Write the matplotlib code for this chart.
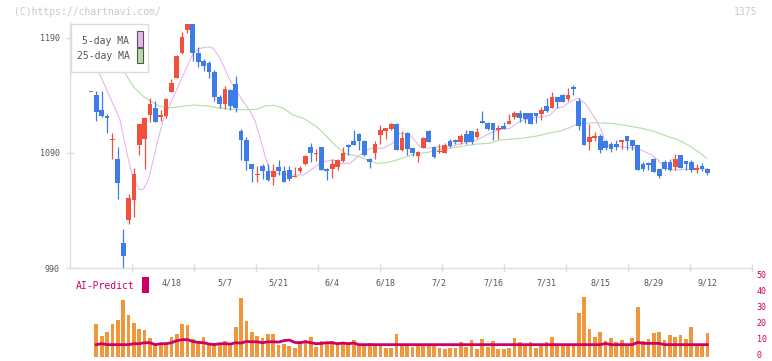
import matplotlib
matplotlib.use('Agg')
import matplotlib.pyplot as plt
import matplotlib.transforms as mtransforms
import numpy as np
from matplotlib.patches import Rectangle

plt.rcParams['font.family'] = ['DejaVu Sans Mono']

# daily candles, oldest first
opens = [1142.6, 1140, 1127, 1122, 1101, 1085, 1012, 1032, 1049, 1097,
         1102, 1123, 1129, 1121, 1122, 1143, 1155, 1177, 1197, 1202,
         1177, 1170, 1168, 1160, 1139, 1133, 1145, 1150, 1109, 1101,
         1080, 1071, 1079, 1074, 1069, 1077.5, 1074, 1075, 1069.5, 1074,
         1080, 1095.5, 1089.5, 1095, 1076, 1076, 1078, 1083, 1097, 1100,
         1106.5, 1100, 1085, 1090, 1105.6, 1109.5, 1111, 1115, 1092.6, 1107,
         1094, 1087.4, 1094.3, 1109, 1095, 1090.5, 1090, 1100, 1101, 1099.6,
         1106.5, 1109, 1104, 1118, 1116, 1116, 1110, 1113.5, 1115, 1121,
         1125, 1124.8, 1125, 1124.8, 1124, 1131, 1129, 1138.7, 1140.4, 1137,
         1147.4, 1135, 1120.4, 1099.6, 1103, 1104.8, 1100.4, 1097.8, 1097.8, 1099.6,
         1104.8, 1101.3, 1097, 1080.4, 1081.3, 1084.8, 1076, 1082.2, 1082, 1077.8,
         1088.3, 1083, 1082.2, 1075.2, 1078.7, 1076.1]
highs = [1143.4, 1144, 1144, 1124, 1107, 1095, 1024, 1054, 1077, 1115,
         1121, 1138, 1135, 1127, 1138, 1154, 1175, 1195, 1202, 1202.5,
         1182, 1172, 1170, 1162, 1140, 1148, 1146, 1157, 1111, 1104,
         1080.5, 1079, 1080, 1080, 1080, 1084, 1079, 1079, 1077.5, 1079,
         1088, 1099, 1093.5, 1095.5, 1077, 1084.5, 1085, 1095.5, 1097.5, 1110,
         1107, 1101, 1086, 1100, 1114, 1112, 1116, 1116, 1109, 1108,
         1094.5, 1092, 1104, 1110, 1095.5, 1098, 1099, 1102, 1102, 1106.5,
         1110, 1109.5, 1112, 1126.5, 1117, 1116.5, 1114, 1117, 1124, 1126.5,
         1127.4, 1125, 1125, 1125, 1130, 1138, 1143, 1139, 1141.3, 1146.5,
         1149, 1138, 1120.5, 1115, 1108.3, 1106.5, 1101.3, 1099.6, 1101.3, 1101.5,
         1105, 1101.5, 1097, 1082, 1082.2, 1085.7, 1076.5, 1083.9, 1085, 1089,
         1088.5, 1083, 1083.9, 1080.4, 1081.3, 1077]
lows = [1142.6, 1118, 1121, 1107, 1085, 1050, 990, 1028, 1034, 1088,
        1076, 1117, 1117, 1118, 1120, 1143, 1155, 1176, 1194, 1170,
        1165, 1161, 1155, 1135, 1129, 1128, 1127, 1126, 1084, 1075,
        1065, 1065, 1067, 1066, 1062, 1071, 1065, 1066, 1069, 1073,
        1079.5, 1082, 1083, 1075, 1066.5, 1068.5, 1075, 1082, 1088, 1097,
        1092.6, 1087, 1077, 1085, 1098, 1102, 1110, 1092.6, 1092, 1088,
        1087, 1082, 1094, 1099.5, 1086, 1090, 1090, 1095, 1098, 1098,
        1098, 1098, 1103, 1116, 1110, 1101, 1102, 1110.9, 1115, 1119.6,
        1117, 1116, 1115, 1116, 1118.7, 1126, 1129, 1129, 1134, 1135,
        1140.4, 1110, 1097, 1092.6, 1100.4, 1090, 1092.6, 1090.9, 1092.6, 1093.5,
        1092.6, 1092.6, 1075, 1074.3, 1075.2, 1073.5, 1068.3, 1075.2, 1074.3, 1075.2,
        1077, 1075.2, 1073.5, 1072.6, 1074.3, 1070.9]
closes = [1143.4, 1126, 1122, 1120.5, 1102, 1064, 1000, 1051, 1072, 1115,
          1120, 1133, 1117, 1123, 1137, 1151, 1174, 1191, 1202, 1177,
          1169, 1166, 1160, 1139, 1133, 1146, 1131, 1129, 1101, 1083,
          1076, 1072, 1074, 1066.5, 1074, 1074, 1065, 1067, 1070, 1077,
          1087, 1090, 1090, 1075, 1074, 1080, 1084, 1090, 1095, 1097,
          1100, 1088, 1082, 1098, 1110, 1112, 1115, 1092.6, 1103, 1093.5,
          1090, 1091, 1103, 1099.6, 1086.5, 1091, 1097, 1096, 1099.6, 1104.8,
          1099.6, 1099.6, 1108, 1116, 1111, 1110, 1112, 1111, 1118, 1125,
          1120.4, 1119.6, 1115, 1122, 1127.4, 1126.5, 1138.7, 1134.3, 1134.3, 1140.4,
          1145.7, 1113.5, 1097, 1103.9, 1104.8, 1092.6, 1094.3, 1093.5, 1095.2, 1101.3,
          1100.4, 1096.1, 1075.2, 1076, 1079.6, 1073.5, 1070, 1076.1, 1075, 1084.8,
          1077, 1080.4, 1075.2, 1077, 1076.1, 1072.6]

# volume and AI-Predict, from the second candle on
volumes = [20.9, 13.5, 15.9, 20.9, 23.4, 35.8, 26.5, 21.5, 17.8, 17.2,
           12.2, 7.9, 8.5, 8.5, 12.8, 14.7, 20.9, 20.3, 11.6, 9.7,
           12.8, 7.9, 9.1, 9.1, 10.4, 8.5, 19.0, 37.1, 22.8, 15.9,
           13.5, 12.2, 14.7, 14.7, 7.9, 8.5, 7.2, 6.0, 10.4, 11.0,
           12.8, 6.6, 10.4, 9.7, 10.4, 8.5, 9.7, 8.5, 11.0, 8.5,
           7.9, 9.1, 7.9, 7.9, 6.0, 6.0, 14.7, 7.2, 7.2, 6.2,
           7.2, 7.2, 7.2, 7.2, 5.6, 5.2, 5.6, 5.6, 9.3, 6.2,
           10.6, 5.2, 11.2, 6.2, 9.9, 5.0, 5.0, 5.6, 11.8, 9.3,
           7.2, 9.3, 5.6, 7.2, 9.3, 12.4, 7.2, 7.2, 7.2, 7.2,
           28.0, 37.9, 17.4, 12.4, 16.1, 9.9, 11.8, 9.3, 10.6, 7.2,
           11.8, 31.7, 9.9, 11.2, 14.9, 16.1, 10.6, 13.7, 12.4, 13.7,
           11.2, 19.0, 7.0, 7.0, 14.9]
ai_predict = [7.9, 8.5, 7.9, 7.9, 7.9, 7.9, 7.9, 8.5, 8.5, 9.1,
              9.1, 7.9, 8.5, 8.5, 9.1, 10.4, 11.0, 11.0, 9.9, 9.3,
              9.1, 8.3, 7.9, 8.5, 8.5, 8.3, 9.1, 8.9, 9.9, 9.7,
              9.7, 9.1, 9.7, 9.7, 9.5, 10.4, 10.8, 9.3, 9.1, 9.7,
              9.1, 8.5, 8.7, 9.1, 9.1, 8.5, 8.9, 8.5, 8.9, 7.9,
              7.9, 7.9, 7.9, 7.9, 7.9, 7.9, 7.9, 7.9, 7.9, 7.9,
              7.9, 7.9, 7.9, 7.9, 7.9, 7.9, 7.9, 7.9, 7.9, 7.9,
              7.9, 7.9, 7.9, 7.9, 7.9, 7.9, 7.9, 7.9, 7.9, 7.9,
              7.9, 7.9, 7.9, 7.9, 7.9, 7.9, 7.9, 7.9, 7.9, 7.9,
              7.9, 7.9, 7.9, 7.9, 7.9, 8.6, 7.9, 7.9, 7.9, 7.9,
              7.9, 9.3, 8.7, 8.7, 8.7, 8.7, 7.9, 7.9, 7.9, 7.9,
              7.9, 7.9, 7.9, 7.9, 7.9]

# moving averages (candle index, price)
ma5_x = [0, 1.5, 5.4, 6.7, 7.6, 9.0, 9.8, 10.7, 11.6, 12.3, 13.5, 17.9, 19.1,
         20.3, 21.9, 22.8, 24.1, 25.9, 27.8, 29.7, 30.6, 31.5, 32.5, 33.4,
         34.6, 37.7, 39.6, 41.4, 43.3, 45.2, 46.5, 48.3, 50.2, 52.1, 54.5,
         56.3, 57.6, 59.5, 61.4, 62.7, 64.6, 67, 69.4, 72, 74.4, 76.3, 78.2,
         79.4, 80.7, 82.5, 84.4, 85.6, 86.9, 88.1, 89.4, 90.9, 92.2, 93.4,
         94.3, 95.3, 95.9, 96.5, 98.4, 100.2, 101.5, 102.7, 104.6, 105.8,
         107.1, 108.9, 111.4, 113.3, 114.9]
ma5 = [1176, 1160, 1119, 1090, 1072, 1058, 1058.7, 1066.5, 1084, 1098, 1119, 1165, 1177,
       1181, 1182.4, 1181, 1172, 1153.5, 1139, 1126, 1118, 1104, 1087, 1074,
       1072, 1070.9, 1070.9, 1076.7, 1082.4, 1083.9, 1081, 1081, 1088.3, 1094.1, 1094.1,
       1098.4, 1107.1, 1105.7, 1095.5, 1094.1, 1095.5, 1095.5, 1098.4, 1101.3, 1107.1, 1110.6, 1111.5,
       1115.8, 1118.7, 1120.7, 1121.6, 1123, 1128.9, 1130.3, 1134.6, 1137.6, 1133.2, 1124.5,
       1118.7, 1108.5, 1099.8, 1096.1, 1095.5, 1095, 1094.1, 1092.6, 1088.3, 1083.9,
       1076.7, 1075.2, 1075.8, 1076.7, 1075.8]
ma25_x = [5.5, 6.2, 7.9, 9.8, 12.3, 14.1, 16.6, 19.1, 21.6, 24.1, 26.5, 29, 30.9,
          32.5, 34, 35.9, 37.7, 39.6, 42.1, 44, 45.8, 47.7, 49.6, 51.4, 53.3,
          55.2, 57, 58.9, 60.8, 62.6, 64.5, 67, 69.5, 72, 74.4, 76.3, 78.2,
          80.7, 83.2, 85.6, 87.5, 89.4, 90.6, 92.2, 94, 97.1, 100.2, 102.7,
          105.2, 107.7, 109.6, 111.4, 113.3, 114.9]
ma25 = [1166, 1160.7, 1147.7, 1139, 1131.7, 1128.9, 1130.3, 1131.7, 1130.9, 1128.9, 1128, 1127.5, 1128,
        1130.9, 1131.5, 1128.9, 1123, 1120.2, 1112.9, 1104.2, 1095.5, 1089.1, 1087.4, 1084.5, 1081,
        1081.6, 1083.9, 1086.8, 1089.7, 1090.3, 1092.6, 1094.1, 1096.1, 1097.8, 1098.4, 1101.3, 1101.9,
        1103, 1104.8, 1107.4, 1109.1, 1112.3, 1115, 1115.8, 1116.3, 1115.8, 1113.7, 1111.5,
        1108.5, 1104.2, 1101.3, 1097, 1091.1, 1085.4]

date_labels = ['4/18', '5/7', '5/21', '6/4', '6/18', '7/2', '7/16', '7/31', '8/15', '8/29', '9/12']
date_index = [15, 25, 35, 45, 55, 65, 75, 85, 95, 105, 115]
price_ticks = [990, 1090, 1190]
vol_ticks = [0, 10, 20, 30, 40, 50]

UP = '#f0503c'
DOWN = '#3e7de8'
GRID = '#dddddd'
TXT = '#555555'
CRIMSON = '#cc0066'
PINK = '#e8b6ec'
GREEN = '#b4dca8'

W, H = 772, 361


def fx(px):
    return px / W


def fy(py):
    return 1 - py / H


fig = plt.figure(figsize=(W / 100, H / 100), dpi=100)

# ---- price panel ----
ax = fig.add_axes([fx(70), fy(268), fx(752) - fx(70), fy(22) - fy(268)])
xl, xr = -3.92, 123.32
ax.set_xlim(xl, xr)
ax.set_ylim(990, 1203.9)

x = np.arange(len(opens))
o = np.array(opens)
c = np.array(closes)
up = c >= o
colors = np.where(up, UP, DOWN)

ax.plot(ma5_x, ma5, color=PINK, lw=0.8, zorder=1)
ax.plot(ma25_x, ma25, color=GREEN, lw=0.8, zorder=1)
ax.vlines(x, lows, highs, colors=colors, lw=0.9, zorder=2)
ax.bar(x, np.maximum(np.abs(c - o), 0.9), bottom=np.minimum(o, c),
       width=0.88, color=colors, zorder=3, linewidth=0)

for s in ['top', 'right']:
    ax.spines[s].set_visible(False)
for s in ['left', 'bottom']:
    ax.spines[s].set_color(GRID)
    ax.spines[s].set_linewidth(1)

ax.set_yticks(price_ticks)
ax.set_yticklabels([str(v) for v in price_ticks])
ax.tick_params(axis='y', direction='inout', length=6, width=1, color=GRID,
               labelsize=6, labelcolor=TXT, pad=4.5)
ax.set_xticks(date_index)
ax.set_xticklabels(date_labels)
ax.tick_params(axis='x', which='major', length=0, labelsize=6, labelcolor=TXT, pad=7.5)
ax.set_xticks(np.linspace(xl, xr, 12)[1:], minor=True)
ax.tick_params(axis='x', which='minor', direction='inout', length=6, width=1, color=GRID)

# ---- volume / AI-Predict panel ----
vax = fig.add_axes([fx(70), fy(357.3), fx(752) - fx(70), fy(277.3) - fy(357.3)])
vax.set_xlim(xl, xr)
vax.set_ylim(0, 50)
vx = np.arange(1, len(opens))
vax.bar(vx, volumes, width=0.7, color='#f0963c', linewidth=0, zorder=1)
vax.plot(vx, ai_predict, color=CRIMSON, lw=2.0, zorder=2)
for s in vax.spines.values():
    s.set_visible(False)
vax.set_xticks([])
vax.yaxis.tick_right()
vax.set_yticks(vol_ticks)
vax.set_yticklabels([str(v) for v in vol_ticks])
vax.tick_params(axis='y', length=0, labelsize=6, labelcolor=CRIMSON, pad=3.5)
# nudge the right-hand labels up a little so "0" stays on the canvas
lift = mtransforms.ScaledTranslation(0, 2.5 / 100, fig.dpi_scale_trans)
for lab in vax.get_yticklabels():
    lab.set_transform(lab.get_transform() + lift)
vax.patch.set_alpha(0)

# ---- legend box ----
fig.add_artist(Rectangle((fx(70.7), fy(71.7)), fx(148.3) - fx(70.7), fy(24) - fy(71.7),
                         transform=fig.transFigure, facecolor='white', edgecolor=GRID,
                         linewidth=1, zorder=5))
fig.text(fx(129.5), fy(40.7), '5-day MA', ha='right', va='center', fontsize=7, color=TXT, zorder=6)
fig.text(fx(129.5), fy(56), '25-day MA', ha='right', va='center', fontsize=7, color=TXT, zorder=6)
fig.add_artist(Rectangle((fx(136.5), fy(46.5)), fx(142.5) - fx(136.5), fy(31) - fy(46.5),
                         transform=fig.transFigure, facecolor=PINK, edgecolor='#555555',
                         linewidth=0.8, zorder=6))
fig.add_artist(Rectangle((fx(136.5), fy(62.5)), fx(142.5) - fx(136.5), fy(48.5) - fy(62.5),
                         transform=fig.transFigure, facecolor=GREEN, edgecolor='#555555',
                         linewidth=0.8, zorder=6))

# ---- other labels ----
fig.text(fx(14), fy(12), '(C)https://chartnavi.com/', ha='left', va='center', fontsize=7, color='#c8c8c8')
fig.text(fx(757), fy(12), '1375', ha='right', va='center', fontsize=7, color='#c8c8c8')
fig.text(fx(76), fy(286), 'AI-Predict', ha='left', va='center', fontsize=7, color=CRIMSON)
fig.add_artist(Rectangle((fx(142.3), fy(292.7)), fx(148.7) - fx(142.3), fy(277.3) - fy(292.7),
                         transform=fig.transFigure, facecolor=CRIMSON, edgecolor='none', zorder=6))

fig.savefig('out.png', dpi=100)
